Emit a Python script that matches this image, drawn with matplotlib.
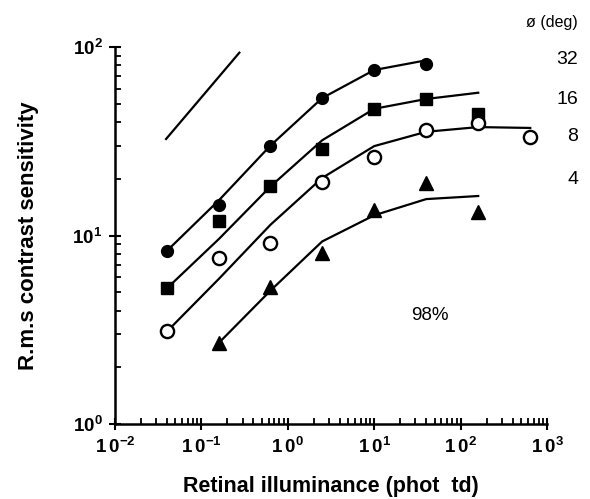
import numpy as np
import matplotlib.pyplot as plt

# Fonts
plt.rcParams['font.family'] = ['Liberation Sans', 'DejaVu Sans']
plt.rcParams['mathtext.fontset'] = 'custom'
plt.rcParams['mathtext.rm'] = 'Liberation Sans'
plt.rcParams['mathtext.bf'] = 'Liberation Sans:bold'

# Data (retinal illuminance, phot td)
x_pts = [0.04, 0.16, 0.63, 2.5, 10, 40, 160, 640]

# measured points, one list per field size
deg32 = [8.3, 14.5, 30, 53.6, 75.5, 81]
deg16 = [5.25, 11.9, 18.2, 28.9, 47, 53, 44]
deg8 = [3.1, 7.6, 9.1, 19.3, 26, 36.3, 39.7, 33.2]
deg4 = [2.7, 5.3, 8.1, 13.7, 18.9, 13.4]   # starts at 0.16

# fitted curves (polyline values at the same x nodes)
fit32 = [8.3, 15.4, 30, 53.6, 75.5, 85]
fit16 = [5.25, 9.6, 18.2, 32, 47, 53, 57.2]
fit8 = [3.1, 5.9, 11.4, 20.2, 29.8, 35.5, 37.6, 37.2]
fit4 = [2.7, 5.1, 9.3, 12.8, 15.6, 16.2]   # starts at 0.16

# slope 1/2 reference line
ref_x = [0.039, 0.275]
ref_y = [32.5, 93.3]

sizes = ['32', '16', '8', '4']
size_y = [60, 99, 137, 180]  # label rows (pixels from top)

fig = plt.figure(figsize=(5.9, 4.99), dpi=100)
ax = fig.add_axes([115/590, 1-424/499, 432/590, 377/499])

lw = 1.6
ax.plot(x_pts[:6], fit32, color='black', lw=lw)
ax.plot(x_pts[:7], fit16, color='black', lw=lw)
ax.plot(x_pts, fit8, color='black', lw=lw)
ax.plot(x_pts[1:7], fit4, color='black', lw=lw)
ax.plot(ref_x, ref_y, color='black', lw=lw)

ax.plot(x_pts[:6], deg32, 'o', color='black', ms=8.5, ls='none')
ax.plot(x_pts[:7], deg16, 's', color='black', ms=8, ls='none')
ax.plot(x_pts, deg8, 'o', mfc='white', mec='black', mew=1.7, ms=9.5, ls='none')
ax.plot(x_pts[1:7], deg4, '^', color='black', ms=9.5, ls='none')

ax.set_xscale('log')
ax.set_yscale('log')
ax.set_xlim(1e-2, 1e3)
ax.set_ylim(1e0, 1e2)

for s in ['top', 'right']:
    ax.spines[s].set_visible(False)
for s in ['left', 'bottom']:
    ax.spines[s].set_linewidth(1.8)

ax.set_xticks([1e-2, 1e-1, 1e0, 1e1, 1e2, 1e3])
ax.set_xticklabels([r'$\mathbf{1\,0^{-2}}$', r'$\mathbf{1\,0^{-1}}$', r'$\mathbf{1\,0^{0}}$',
                    r'$\mathbf{1\,0^{1}}$', r'$\mathbf{1\,0^{2}}$', r'$\mathbf{1\,0^{3}}$'], fontsize=13.5)
ax.set_yticks([1e0, 1e1, 1e2])
ax.set_yticklabels([r'$\mathbf{10^{0}}$', r'$\mathbf{10^{1}}$', r'$\mathbf{10^{2}}$'], fontsize=13.5)
ax.tick_params(which='major', direction='inout', length=8, width=1.5, pad=5)
ax.tick_params(which='minor', direction='in', length=4, width=1.3)

ax.set_xlabel('Retinal illuminance (phot  td)', fontsize=15.5, fontweight='bold', labelpad=14)
ax.set_ylabel('R.m.s contrast sensitivity', fontsize=16, fontweight='bold', labelpad=24)

fig.text(430/590, 1-316/499, '98%', fontsize=13.5, ha='center', va='center')
fig.text(578/590, 1-22/499, 'ø (deg)', fontsize=11.5, ha='right', va='center')
for lab, yy in zip(sizes, size_y):
    fig.text(578/590, 1-yy/499, lab, fontsize=14, ha='right', va='center')

fig.savefig('out.png', dpi=100)
